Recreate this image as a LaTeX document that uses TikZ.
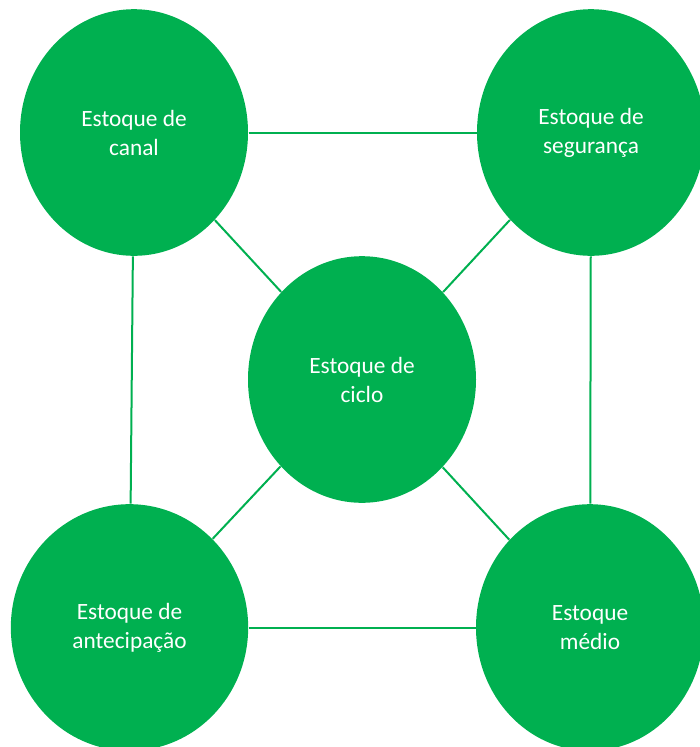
\documentclass[tikz,border=0pt]{standalone}
\usepackage{fontspec}
\setmainfont{Carlito}
\usetikzlibrary{shapes.geometric}
\definecolor{verde}{RGB}{0,176,80}
\tikzset{every picture/.style={line width=0.75pt}}
\tikzset{
  estoque/.style={ellipse, fill=verde, inner sep=0pt, minimum width=171pt, minimum height=185pt,
    align=center, text=white, font=\fontsize{17.5}{21.75}\selectfont},
  ligacao/.style={draw=verde, line width=1.5pt}
}

\begin{document}
\begin{tikzpicture}[x=0.75pt,y=0.75pt,yscale=-1,xscale=1]
%set diagram size to 700 x 747
\useasboundingbox (0,0) rectangle (700,747);

% Ellipses
\node [estoque] (canal) at (134,132.5) {Estoque de\\canal};
\node [estoque] (seguranca) at (591,132.5) {Estoque de\\segurança};
\node [estoque] (ciclo) at (362,379.5) {Estoque de\\ciclo};
\node [estoque, minimum width=178pt] (antecipacao) at (129.5,627.5) {Estoque de\\antecipação};
\node [estoque] (medio) at (590,627.5) {Estoque\\médio};

% Straight Lines
\draw [ligacao] (canal) -- (seguranca);
\draw [ligacao] (antecipacao) -- (medio);
\draw [ligacao] (canal) -- (antecipacao);
\draw [ligacao] (seguranca) -- (medio);
\draw [ligacao] (canal) -- (ciclo);
\draw [ligacao] (seguranca) -- (ciclo);
\draw [ligacao] (ciclo) -- (antecipacao);
\draw [ligacao] (ciclo) -- (medio);

\end{tikzpicture}
\end{document}
